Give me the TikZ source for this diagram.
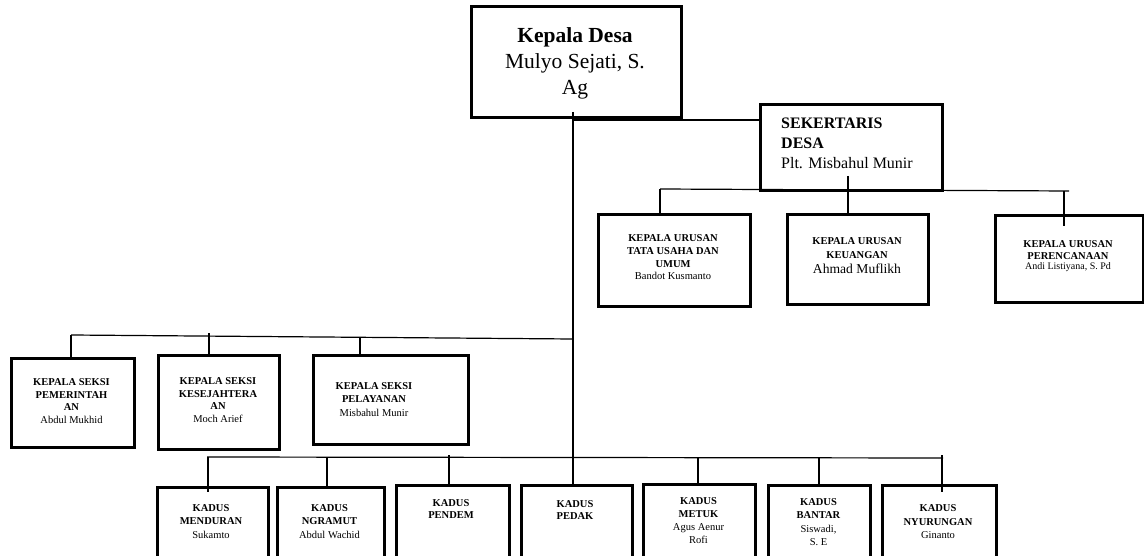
\documentclass[tikz,border=0pt]{standalone}
\usepackage{fontspec}
\setmainfont{Liberation Serif}
\begin{document}
\begin{tikzpicture}[x=1pt,y=-1pt,
  box/.style={draw, line width=3pt, inner sep=0pt, anchor=north west},
  conn/.style={line width=1.2pt},
  txt/.style={align=center, inner sep=0pt},
  small/.style={font=\fontsize{10.5}{12.5}\selectfont},
]
\useasboundingbox (0,0) rectangle (1144,556);
\clip (0,0) rectangle (1144,556);

% ---- head of the village
\node[box, minimum width=210pt, minimum height=111pt] (kades) at (470,5) {};
\node[txt, font=\fontsize{21.5}{26}\selectfont] (kadesT) at (575,63)
  {\textbf{Kepala Desa}\\Mulyo Sejati, S.\\Ag};

% ---- secretary
\node[box, minimum width=182pt, minimum height=86pt] (sek) at (759,103) {};
\node[inner sep=0pt, align=left, anchor=west, font=\fontsize{16}{20}\selectfont] (sekT) at (781,143.5)
  {\textbf{SEKERTARIS}\\\textbf{DESA}\\Plt. Misbahul Munir};

% ---- heads of affairs (kaur)
\node[box, minimum width=152pt, minimum height=92pt] (kaur1) at (597,213) {};
\node[box, minimum width=141pt, minimum height=90pt] (kaur2) at (786,213) {};
\node[box, minimum width=148pt, minimum height=87pt] (kaur3) at (994,214) {};
\node[txt, font=\fontsize{10.5}{12.7}\selectfont] (kaur1T) at (673,257.5)
  {\textbf{KEPALA URUSAN}\\\textbf{TATA USAHA DAN}\\\textbf{UMUM}\\Bandot Kusmanto};
\node[txt, font=\fontsize{10.5}{14}\selectfont] (kaur2T) at (857,256)
  {\textbf{KEPALA URUSAN}\\\textbf{KEUANGAN}\\[1pt]{\fontsize{13.6}{15}\selectfont Ahmad Muflikh}};
\node[txt, font=\fontsize{10.5}{12}\selectfont] (kaur3T) at (1068,256)
  {\textbf{KEPALA URUSAN}\\\textbf{PERENCANAAN}\\[-1.5pt]{\fontsize{10}{11}\selectfont Andi Listiyana, S. Pd}};

% ---- heads of sections (kasi)
\node[box, minimum width=123pt, minimum height=89pt] (kasi1) at (10,357) {};
\node[box, minimum width=121pt, minimum height=94pt] (kasi2) at (157,354) {};
\node[box, minimum width=155pt, minimum height=89pt] (kasi3) at (312,354) {};
\node[txt, font=\fontsize{10.5}{12.7}\selectfont] (kasi1T) at (71.5,401)
  {\textbf{KEPALA SEKSI}\\\textbf{PEMERINTAH}\\\textbf{AN}\\Abdul Mukhid};
\node[txt, font=\fontsize{10.5}{12.7}\selectfont] (kasi2T) at (218,400)
  {\textbf{KEPALA SEKSI}\\\textbf{KESEJAHTERA}\\\textbf{AN}\\Moch Arief};
\node[txt, font=\fontsize{10.5}{13.5}\selectfont] (kasi3T) at (374,399.5)
  {\textbf{KEPALA SEKSI}\\\textbf{PELAYANAN}\\Misbahul Munir};

% ---- hamlet heads (kadus)
\node[box, minimum width=111pt, minimum height=90pt] (kd1) at (156,486) {};
\node[box, minimum width=107pt, minimum height=90pt] (kd2) at (276,486) {};
\node[box, minimum width=113pt, minimum height=90pt] (kd3) at (395,484) {};
\node[box, minimum width=111pt, minimum height=90pt] (kd4) at (520,484) {};
\node[box, minimum width=112pt, minimum height=90pt] (kd5) at (642,483) {};
\node[box, minimum width=102pt, minimum height=90pt] (kd6) at (767,484) {};
\node[box, minimum width=114pt, minimum height=90pt] (kd7) at (881,484) {};
\node[txt, font=\fontsize{10.5}{13.7}\selectfont] (kd1T) at (211,521.5) {\textbf{KADUS}\\\textbf{MENDURAN}\\Sukamto};
\node[txt, font=\fontsize{10.5}{13.7}\selectfont] (kd2T) at (329.5,521.5) {\textbf{KADUS}\\\textbf{NGRAMUT}\\Abdul Wachid};
\node[txt, small] (kd3T) at (451,509) {\textbf{KADUS}\\\textbf{PENDEM}};
\node[txt, small] (kd4T) at (575,510) {\textbf{KADUS}\\\textbf{PEDAK}};
\node[txt, font=\fontsize{10.5}{13}\selectfont] (kd5T) at (698.5,521) {\textbf{KADUS}\\\textbf{METUK}\\Agus Aenur\\Rofi};
\node[txt, font=\fontsize{10.5}{13.5}\selectfont] (kd6T) at (818.5,522) {\textbf{KADUS}\\\textbf{BANTAR}\\Siswadi,\\S. E};
\node[txt, font=\fontsize{10.5}{13.5}\selectfont] (kd7T) at (938,522) {\textbf{KADUS}\\\textbf{NYURUNGAN}\\Ginanto};

% ---- connectors
% main trunk from the head down to the hamlet row
\coordinate (t0) at (573,112);
\draw[conn] (t0) -- (t0 |- kd4.north);
% branch to the secretary
\coordinate (j1) at (572,120);
\draw[conn] (j1) -- (j1 -| sek.west);
% secretary down to the kaur row
\coordinate (s0) at (848,176);
\draw[conn] (s0) -- (s0 |- kaur2.north);
\coordinate (ub1) at (660,189);
\coordinate (ub2) at (1069,191);
\draw[conn] (ub1) -- (ub2);
\draw[conn] (ub1) -- (ub1 |- kaur1.north);
\coordinate (ub3) at (1064,191);
\coordinate (ub4) at (1064,226);
\draw[conn] (ub3) -- (ub4);
% kasi bus
\coordinate (sb1) at (71,335);
\coordinate (sb2) at (573,339);
\draw[conn] (sb1) -- (sb2);
\draw[conn] (sb1) -- (sb1 |- kasi1.north);
\coordinate (sb3) at (209,333);
\draw[conn] (sb3) -- (sb3 |- kasi2.north);
\coordinate (sb4) at (360,337);
\draw[conn] (sb4) -- (sb4 |- kasi3.north);
% kadus bus
\coordinate (kb1) at (207,457);
\coordinate (kb2) at (943,458);
\draw[conn] (kb1) -- (kb2);
\coordinate (kt1) at (208,457);
\draw[conn] (kt1) -- (208,492);
\coordinate (kt2) at (327,458);
\draw[conn] (kt2) -- (kt2 |- kd2.north);
\coordinate (kt3) at (449,455);
\draw[conn] (kt3) -- (kt3 |- kd3.north);
\coordinate (kt5) at (698,458);
\draw[conn] (kt5) -- (kt5 |- kd5.north);
\coordinate (kt6) at (819,458);
\draw[conn] (kt6) -- (kt6 |- kd6.north);
\coordinate (kt7) at (942,455);
\draw[conn] (kt7) -- (942,492);
\end{tikzpicture}
\end{document}
